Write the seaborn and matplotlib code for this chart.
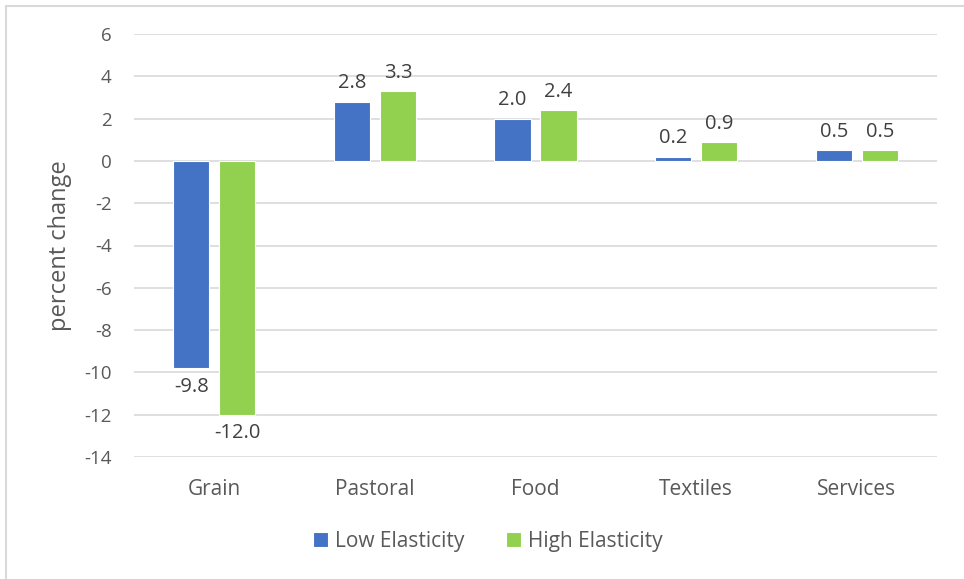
import matplotlib
matplotlib.use("Agg")
import matplotlib.pyplot as plt
from matplotlib.lines import Line2D
import seaborn as sns
import pandas as pd

sectors = ["Grain", "Pastoral", "Food", "Textiles", "Services"]
low_elasticity = [-9.8, 2.8, 2.0, 0.2, 0.5]
high_elasticity = [-12.0, 3.3, 2.4, 0.9, 0.5]
series_names = ["Low Elasticity", "High Elasticity"]
y_ticks = [-14, -12, -10, -8, -6, -4, -2, 0, 2, 4, 6]

df = pd.DataFrame({
    "sector": sectors * 2,
    "value": low_elasticity + high_elasticity,
    "scenario": [series_names[0]] * len(sectors) + [series_names[1]] * len(sectors),
})

sns.set_theme(style="white")
plt.rcParams["font.family"] = ["Open Sans", "DejaVu Sans"]

W, H = 964, 579
fig = plt.figure(figsize=(W / 100, H / 100), dpi=100)
ax = fig.add_axes([134 / W, 1 - 457 / H, (937 - 134) / W, (457 - 34) / H])

sns.barplot(
    data=df, x="sector", y="value", hue="scenario",
    palette=["#4472C4", "#92D050"], saturation=1, width=0.573, gap=0.217,
    edgecolor="white", linewidth=0.8, ax=ax, legend=True, zorder=3,
)

ax.set_ylim(-14, 6)
ax.set_yticks(y_ticks)
ax.set_yticklabels([str(t) for t in y_ticks])
ax.yaxis.grid(True, color="#D9D9D9", linewidth=1.2, zorder=0)
ax.set_axisbelow(True)
for s in ax.spines.values():
    s.set_visible(False)
ax.tick_params(axis="both", length=0, colors="#595959")
ax.tick_params(axis="y", pad=16, labelsize=13.5)
ax.tick_params(axis="x", pad=16, labelsize=15)
ax.set_xlabel("")
ax.set_ylabel("percent change", fontsize=17, color="#595959")
ax.yaxis.set_label_coords((60 - 134) / (937 - 134), 0.5)
ax.yaxis.label.set_va("center")

for cont in ax.containers:
    ax.bar_label(cont, fmt="%.1f", padding=6, fontsize=14.5, color="#404040")

handles, labels = ax.get_legend_handles_labels()
ax.get_legend().remove()
fig.legend(
    handles, labels, loc="center", bbox_to_anchor=(488 / W, 1 - 541 / H),
    ncol=2, frameon=False, fontsize=15, handlelength=0.7, handleheight=0.7,
    handletextpad=0.35, columnspacing=2.0, labelcolor="#595959",
)

# light chart-area border on the left and top
border = dict(color="#D9D9D9", linewidth=1.5, transform=fig.transFigure)
fig.add_artist(Line2D([5.5 / W, 5.5 / W], [0, 1 - 5.5 / H], **border))
fig.add_artist(Line2D([5.5 / W, 1], [1 - 5.5 / H, 1 - 5.5 / H], **border))

fig.savefig("out.png", dpi=100)
